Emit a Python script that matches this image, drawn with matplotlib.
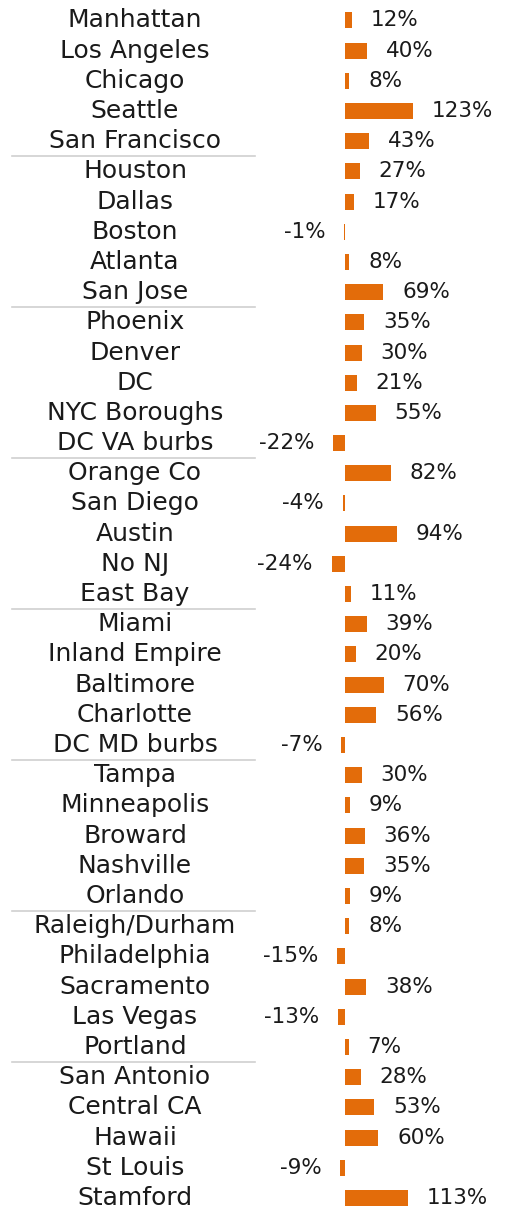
import matplotlib.pyplot as plt
import matplotlib.transforms as mtransforms

plt.rcParams['font.family'] = ['DejaVu Sans']

# Market names and growth values (%)
markets = [
    'Manhattan', 'Los Angeles', 'Chicago', 'Seattle', 'San Francisco',
    'Houston', 'Dallas', 'Boston', 'Atlanta', 'San Jose',
    'Phoenix', 'Denver', 'DC', 'NYC Boroughs', 'DC VA burbs',
    'Orange Co', 'San Diego', 'Austin', 'No NJ', 'East Bay',
    'Miami', 'Inland Empire', 'Baltimore', 'Charlotte', 'DC MD burbs',
    'Tampa', 'Minneapolis', 'Broward', 'Nashville', 'Orlando',
    'Raleigh/Durham', 'Philadelphia', 'Sacramento', 'Las Vegas', 'Portland',
    'San Antonio', 'Central CA', 'Hawaii', 'St Louis', 'Stamford',
]
growth = [
    12, 40, 8, 123, 43,
    27, 17, -1, 8, 69,
    35, 30, 21, 55, -22,
    82, -4, 94, -24, 11,
    39, 20, 70, 56, -7,
    30, 9, 36, 35, 9,
    8, -15, 38, -13, 7,
    28, 53, 60, -9, 113,
]

bar_color = '#E36C0A'
text_color = '#1a1a1a'

fig = plt.figure(figsize=(5.05, 12.1), dpi=100)
ax = fig.add_axes([0, 0, 1, 1])

px_per_pct = 0.555
zero_px = 345
ax.set_xlim(-zero_px / px_per_pct, (505 - zero_px) / px_per_pct)
ax.set_ylim(39.40, -0.676)
ax.axis('off')

ypos = list(range(len(markets)))
ax.barh(ypos, growth, height=0.53, color=bar_color)

trans = mtransforms.blended_transform_factory(ax.transAxes, ax.transData)
for y, name, v in zip(ypos, markets, growth):
    ax.text(135 / 505, y, name, transform=trans, ha='center', va='center',
            fontsize=18, color=text_color)
    if v >= 0:
        ax.annotate(f'{v}%', (v, y), xytext=(13.5, 0), textcoords='offset points',
                    ha='left', va='center', fontsize=15.5, color=text_color)
    else:
        ax.annotate(f'{v}%', (v, y), xytext=(-13.5, 0), textcoords='offset points',
                    ha='right', va='center', fontsize=15.5, color=text_color)

# separators every 5 markets
for i in range(4, len(markets) - 1, 5):
    ax.plot([12 / 505, 255 / 505], [i + 0.5, i + 0.5], transform=trans,
            color='#d0d0d0', lw=1.2)

fig.savefig('out.png', dpi=100)
